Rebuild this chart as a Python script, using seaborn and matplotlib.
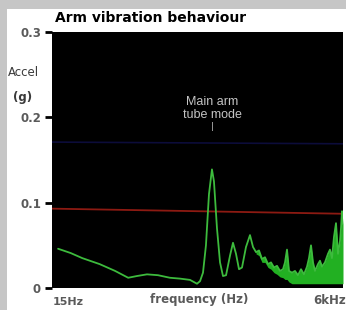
import matplotlib
matplotlib.use("Agg")
import matplotlib.pyplot as plt
import seaborn as sns
import numpy as np
import pandas as pd
from matplotlib.patches import Rectangle

# ---- data ----
freq = [17, 22, 28, 40, 55, 72, 86, 106, 133, 170, 209, 257, 297, 316, 336, 357,
        380, 404, 421, 448, 477, 507, 540, 586, 623, 663, 705, 750, 814, 884, 941,
        1001, 1064, 1132, 1204, 1281, 1363, 1449, 1542, 1640, 1745, 1818, 1894, 1974,
        2100, 2233, 2376, 2527, 2688, 2860, 2979, 3105, 3235, 3371, 3586, 3736, 3893,
        4141, 4405, 4590, 4783, 4984, 5194, 5412, 5640, 5757, 5877, 6000]
accel = [0.046, 0.041, 0.035, 0.028, 0.020, 0.012, 0.014, 0.016, 0.015, 0.012, 0.011,
         0.0095, 0.005, 0.008, 0.018, 0.050, 0.110, 0.139, 0.125, 0.070, 0.030, 0.014,
         0.015, 0.038, 0.053, 0.040, 0.022, 0.024, 0.048, 0.062, 0.048,
         0.042, 0.044, 0.034, 0.036, 0.028, 0.030, 0.024, 0.026, 0.020, 0.022, 0.030,
         0.045, 0.020, 0.018, 0.020, 0.015, 0.022, 0.016, 0.025, 0.035, 0.050, 0.030,
         0.020, 0.028, 0.032, 0.025, 0.030, 0.040, 0.045, 0.035, 0.060, 0.076, 0.040,
         0.055, 0.070, 0.090, 0.075]
# lower envelope of the dense high-frequency band (from 1001 Hz on)
band_start = 31
accel_floor = [0.040, 0.038, 0.030, 0.030, 0.024, 0.022, 0.018, 0.016, 0.013, 0.012,
               0.010, 0.010, 0.007, 0.005, 0.005, 0.005, 0.005, 0.005, 0.005, 0.005,
               0.005, 0.005, 0.005, 0.005, 0.005, 0.005, 0.005, 0.005, 0.005, 0.005,
               0.005, 0.005, 0.005, 0.005, 0.005, 0.005, 0.005]
ref_freq = [15, 6000]
red_level = [0.093, 0.087]
blue_level = [0.171, 0.169]
yticks = [0, 0.1, 0.2, 0.3]
ytick_labels = ["0", "0.1", "0.2", "0.3"]

df = pd.DataFrame({"freq": freq, "accel": accel})

sns.set_style("white")
plt.rcParams['font.family'] = ['DejaVu Sans']

fig = plt.figure(figsize=(3.46, 3.10), dpi=100)
fig.patch.set_facecolor("#c6c6c6")
fig.add_artist(Rectangle((7 / 346, 0), 1, (310 - 9) / 310, transform=fig.transFigure,
                         facecolor="white", edgecolor="none", zorder=0))

ax = fig.add_axes([52 / 346, 22 / 310, 291 / 346, 256 / 310])
ax.set_facecolor("black")
ax.set_xscale("log")

ax.plot(ref_freq, blue_level, color="#0c0c3a", lw=1.2, zorder=1)
ax.plot(ref_freq, red_level, color="#8c1a12", lw=1.3, zorder=1)

hf_freq = freq[band_start:]
hf_accel = accel[band_start:]
ax.fill_between(hf_freq, accel_floor, hf_accel, color="#22b022", lw=0, zorder=2)
sns.lineplot(data=df, x="freq", y="accel", ax=ax, color="#3dbb3d", lw=1.3, zorder=3)

ax.set_xlim(15, 6000)
ax.set_ylim(0, 0.3)
ax.set_xticks([])
ax.minorticks_off()
ax.set_xticks([], minor=True)
ax.set_yticks(yticks)
ax.set_yticklabels(ytick_labels, fontsize=8.5, fontweight="bold", color="#5a5a5a")
ax.tick_params(axis="y", length=5, width=2, color="black", pad=3, left=True)
ax.set_xlabel("")
ax.set_ylabel("")
for s in ax.spines.values():
    s.set_visible(False)

# annotation
ax.text(405, 0.2105, "Main arm\ntube mode", color="#c4c4c4", fontsize=9,
        family="Liberation Sans", ha="center", va="center", linespacing=1.1)
ax.text(405, 0.1895, "|", color="#c4c4c4", fontsize=6, ha="center", va="center")

# texts in figure pixels
fig.text(55 / 346, 1 - 18 / 310, "Arm vibration behaviour", fontsize=10,
         fontweight="bold", color="black", ha="left", va="center")
fig.text(23 / 346, 1 - 73 / 310, "Accel", fontsize=8.5, color="#3a3a3a",
         ha="center", va="center")
fig.text(23 / 346, 1 - 98 / 310, "(g)", fontsize=8.5, color="#3a3a3a",
         ha="center", va="center", fontweight="bold")
fig.text(53 / 346, 1 - 302 / 310, "15Hz", fontsize=8, fontweight="bold",
         color="#5a5a5a", ha="left", va="center")
fig.text(199 / 346, 1 - 300 / 310, "frequency (Hz)", fontsize=8.5, fontweight="bold",
         color="#5a5a5a", ha="center", va="center")
fig.text(346 / 346, 1 - 300 / 310, "6kHz", fontsize=8.5, fontweight="bold",
         color="#5a5a5a", ha="right", va="center")

fig.savefig("out.png", dpi=100, facecolor=fig.get_facecolor())
